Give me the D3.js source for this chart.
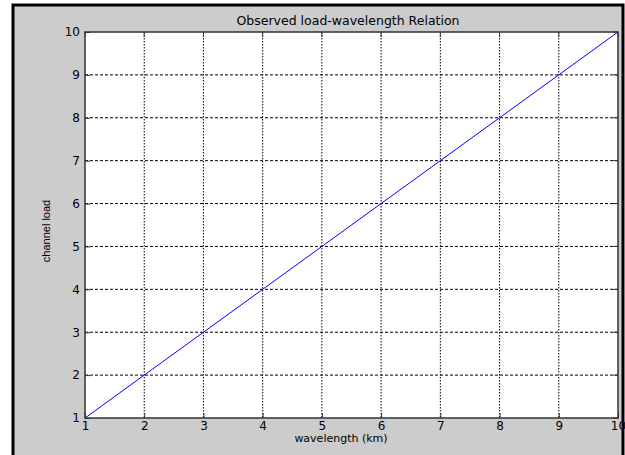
<!DOCTYPE html>
<html>
<head>
<meta charset="utf-8">
<script src="https://d3js.org/d3.v7.min.js"></script>
<style>
  body { margin: 0; background: #fff; }
  text { font-family: "DejaVu Sans", sans-serif; fill: #000; }
</style>
</head>
<body>
<svg id="chart" width="625" height="455"></svg>
<script>
// data
var wavelength = [1, 2, 3, 4, 5, 6, 7, 8, 9, 10];
var channelLoad = [1, 2, 3, 4, 5, 6, 7, 8, 9, 10];
var xTicks = [1, 2, 3, 4, 5, 6, 7, 8, 9, 10];
var yTicks = [1, 2, 3, 4, 5, 6, 7, 8, 9, 10];

var svg = d3.select("#chart");

// figure frame: grey panel with black border
svg.append("rect")
   .attr("x", 13).attr("y", 5)
   .attr("width", 610).attr("height", 460)
   .attr("fill", "#cccccc")
   .attr("stroke", "#000")
   .attr("stroke-width", 3);

var margin = {left: 85, top: 32, right: 618, bottom: 418};

var x = d3.scaleLinear().domain([1, 10]).range([margin.left, margin.right]),
    y = d3.scaleLinear().domain([1, 10]).range([margin.bottom, margin.top]);

var plot = svg.append("g");

plot.append("rect")
    .attr("x", margin.left).attr("y", margin.top)
    .attr("width", margin.right - margin.left)
    .attr("height", margin.bottom - margin.top)
    .attr("fill", "#fff");

// grid
plot.selectAll(".vgrid")
    .data(xTicks.slice(1, -1))
    .enter().append("line")
    .attr("class", "vgrid")
    .attr("x1", function(d) { return x(d); })
    .attr("x2", function(d) { return x(d); })
    .attr("y1", margin.top).attr("y2", margin.bottom)
    .attr("stroke", "#000")
    .attr("stroke-width", 1)
    .attr("stroke-dasharray", "1.5,1.5");

plot.selectAll(".hgrid")
    .data(yTicks.slice(1, -1))
    .enter().append("line")
    .attr("class", "hgrid")
    .attr("y1", function(d) { return y(d); })
    .attr("y2", function(d) { return y(d); })
    .attr("x1", margin.left).attr("x2", margin.right)
    .attr("stroke", "#000")
    .attr("stroke-width", 1)
    .attr("stroke-dasharray", "3,2");

// the line
var line = d3.line()
             .x(function(d, i) { return x(wavelength[i]); })
             .y(function(d) { return y(d); });

plot.append("path")
    .datum(channelLoad)
    .attr("d", line)
    .attr("fill", "none")
    .attr("stroke", "#0000ff")
    .attr("stroke-width", 1);

// axes with inward ticks
var xAxis = d3.axisBottom(x).tickValues(xTicks).tickSizeInner(-5).tickSizeOuter(0).tickPadding(3);
var yAxis = d3.axisLeft(y).tickValues(yTicks).tickSizeInner(-5).tickSizeOuter(0).tickPadding(5);

var gx = svg.append("g")
   .attr("transform", "translate(0," + margin.bottom + ")")
   .call(xAxis);
var gy = svg.append("g")
   .attr("transform", "translate(" + margin.left + ",0)")
   .call(yAxis);

[gx, gy].forEach(function(g) {
  g.selectAll("text").style("font-size", "12px").style("font-family", "DejaVu Sans, sans-serif");
  g.selectAll("line").attr("stroke", "#333");
  g.select(".domain").remove();
});

// top and right ticks of the box
svg.selectAll(".xtop")
   .data(xTicks)
   .enter().append("line")
   .attr("x1", function(d) { return x(d); })
   .attr("x2", function(d) { return x(d); })
   .attr("y1", margin.top).attr("y2", margin.top + 5)
   .attr("stroke", "#333");
svg.selectAll(".yright")
   .data(yTicks)
   .enter().append("line")
   .attr("y1", function(d) { return y(d); })
   .attr("y2", function(d) { return y(d); })
   .attr("x1", margin.right).attr("x2", margin.right - 5)
   .attr("stroke", "#333");

// axes box
svg.append("rect")
   .attr("x", margin.left).attr("y", margin.top)
   .attr("width", margin.right - margin.left)
   .attr("height", margin.bottom - margin.top)
   .attr("fill", "none")
   .attr("stroke", "#333")
   .attr("stroke-width", 1.5);

// labels
svg.append("text")
   .attr("x", 348)
   .attr("y", 25)
   .attr("text-anchor", "middle")
   .style("font-size", "12.5px")
   .text("Observed load-wavelength Relation");

svg.append("text")
   .attr("x", 341)
   .attr("y", 442)
   .attr("text-anchor", "middle")
   .style("font-size", "11px")
   .text("wavelength (km)");

svg.append("text")
   .attr("transform", "translate(50,231) rotate(-90)")
   .attr("text-anchor", "middle")
   .style("font-size", "11px")
   .style("font-family", "Liberation Sans, Arial, sans-serif")
   .text("channel load");
</script>
</body>
</html>
